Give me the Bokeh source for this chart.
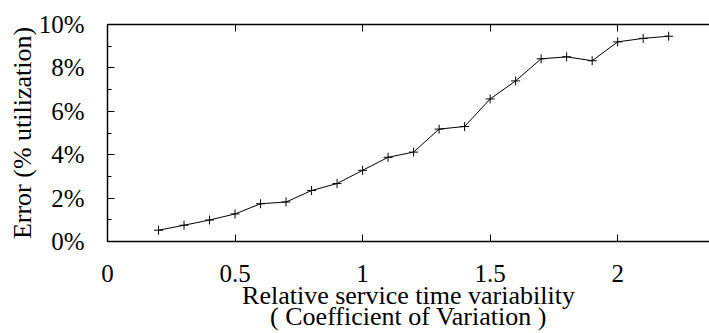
from bokeh.plotting import figure
from bokeh.models import FixedTicker, PrintfTickFormatter, CustomJSTickFormatter, LinearAxis, Range1d
from bokeh.embed import file_html
from bokeh.resources import INLINE

cv = [0.2, 0.3, 0.4, 0.5, 0.6, 0.7, 0.8, 0.9, 1.0, 1.1, 1.2, 1.3, 1.4, 1.5, 1.6, 1.7, 1.8, 1.9, 2.0, 2.1, 2.2]
err = [0.52, 0.75, 0.99, 1.27, 1.74, 1.82, 2.35, 2.67, 3.28, 3.88, 4.12, 5.18, 5.30, 6.57, 7.40, 8.42, 8.51, 8.33, 9.20, 9.36, 9.46]
x_ticks = [0, 0.5, 1, 1.5, 2]
y_ticks = [0, 2, 4, 6, 8, 10]
y_minor = [1, 3, 5, 7, 9]
x_label_1 = "Relative service time variability"
x_label_2 = "( Coefficient of Variation )"
y_label = "Error (% utilization)"

FONT = "Liberation Serif"

p = figure(width=709, height=333, output_backend="svg", toolbar_location=None,
           x_range=Range1d(0, 2.36), y_range=Range1d(0, 10),
           min_border_left=107, min_border_right=0, min_border_top=24, min_border_bottom=0,
           x_axis_label=x_label_1, y_axis_label=y_label)
p.outline_line_color = None
p.xgrid.visible = False
p.ygrid.visible = False
p.background_fill_color = "white"
p.border_fill_color = "white"

p.line(cv, err, line_color="black", line_width=1)
p.scatter(cv, err, marker="cross", size=9, line_color="black", line_width=1)

xa = p.xaxis[0]
xa.ticker = FixedTicker(ticks=x_ticks, minor_ticks=[])
xa.formatter = CustomJSTickFormatter(code="return tick.toString();")
ya = p.yaxis[0]
ya.ticker = FixedTicker(ticks=y_ticks, minor_ticks=y_minor)
ya.formatter = PrintfTickFormatter(format="%d%%")

for ax in (xa, ya):
    ax.axis_line_color = "black"
    ax.axis_line_width = 1.5
    ax.major_tick_line_color = "black"
    ax.minor_tick_line_color = "black"
    ax.major_tick_in = 7
    ax.major_tick_out = 0
    ax.minor_tick_in = 4
    ax.minor_tick_out = 0
    ax.major_label_text_font = FONT
    ax.major_label_text_font_size = "25px"
    ax.major_label_text_color = "black"
    ax.axis_label_text_font = FONT
    ax.axis_label_text_font_size = "26px"
    ax.axis_label_text_font_style = "normal"
    ax.axis_label_text_color = "black"

xa.major_label_standoff = 23
xa.axis_label_standoff = -4
ya.major_label_standoff = 23
ya.axis_label_standoff = -1

xb = LinearAxis(ticker=FixedTicker(ticks=[], minor_ticks=[]), axis_line_color=None,
                major_tick_in=0, major_tick_out=0, minor_tick_in=0, minor_tick_out=0,
                major_label_standoff=0, axis_label=x_label_2, axis_label_standoff=-11,
                axis_label_text_font=FONT, axis_label_text_font_size="26px",
                axis_label_text_font_style="normal", axis_label_text_color="black")
p.add_layout(xb, "below")

top = LinearAxis(ticker=FixedTicker(ticks=x_ticks, minor_ticks=[]),
                 formatter=CustomJSTickFormatter(code="return '';"),
                 axis_line_width=1.5, major_tick_in=7, major_tick_out=0, minor_tick_in=0, minor_tick_out=0,
                 major_label_standoff=0)
p.add_layout(top, "above")

open("out.html", "w").write(file_html(p, INLINE))
